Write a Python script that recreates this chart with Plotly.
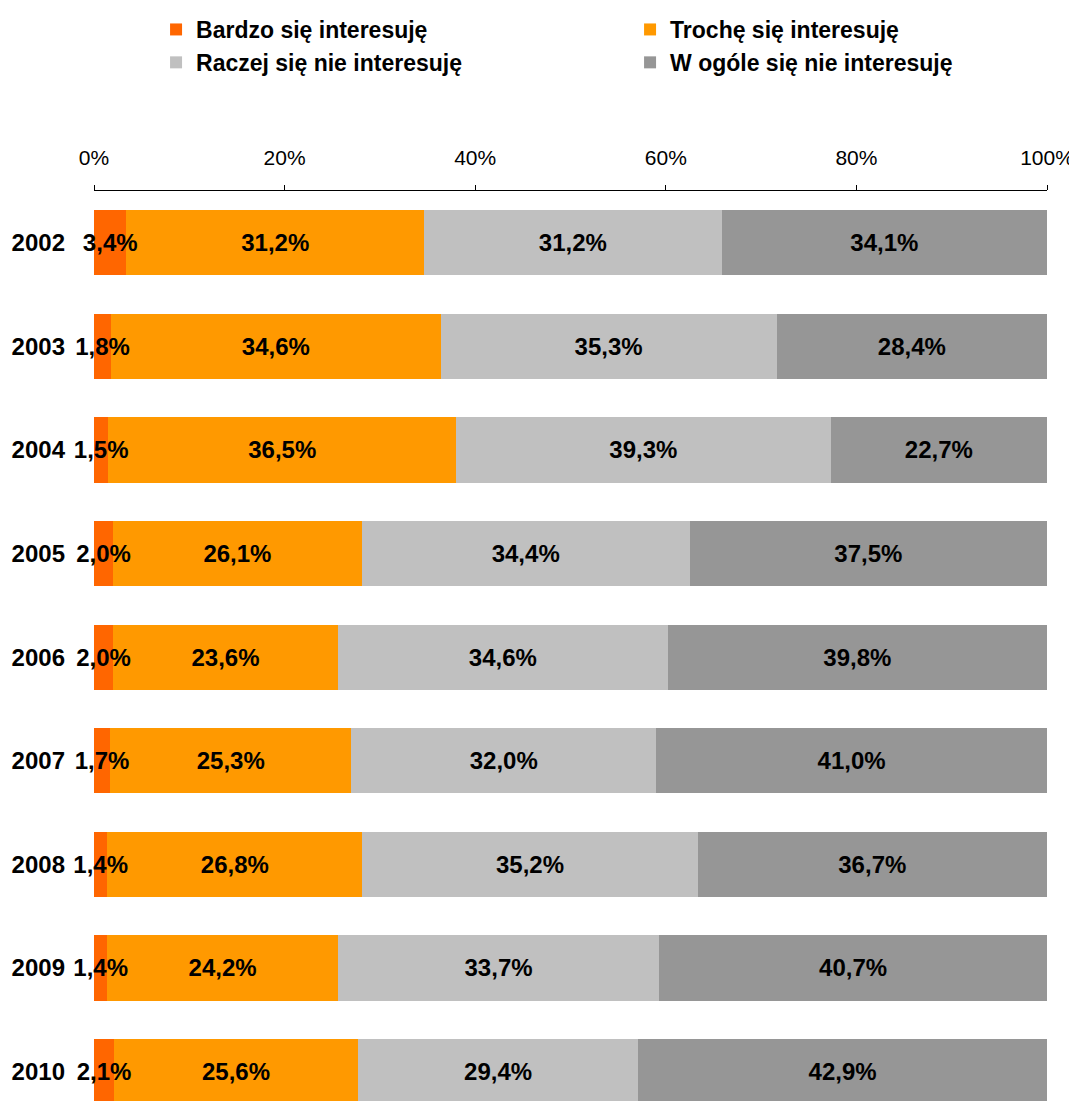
"""Interest levels by year, 100% stacked horizontal bars."""

import plotly.graph_objects as go

years = ["2002", "2003", "2004", "2005", "2006", "2007", "2008", "2009", "2010"]

bardzo = [3.4, 1.8, 1.5, 2.0, 2.0, 1.7, 1.4, 1.4, 2.1]
troche = [31.2, 34.6, 36.5, 26.1, 23.6, 25.3, 26.8, 24.2, 25.6]
raczej_nie = [31.2, 35.3, 39.3, 34.4, 34.6, 32.0, 35.2, 33.7, 29.4]
w_ogole_nie = [34.1, 28.4, 22.7, 37.5, 39.8, 41.0, 36.7, 40.7, 42.9]

series_names = [
    "Bardzo się interesuję",
    "Trochę się interesuję",
    "Raczej się nie interesuję",
    "W ogóle się nie interesuję",
]
x_ticks = [0, 20, 40, 60, 80, 100]
x_tick_labels = ["0%", "20%", "40%", "60%", "80%", "100%"]

COLORS = ["#FF6600", "#FF9900", "#C0C0C0", "#969696"]
FONT = "Liberation Sans, Arial, sans-serif"
Y_RANGE = [8.284, -0.5]


def pct_label(v):
    return f"{v:.1f}%".replace(".", ",")


all_values = [bardzo, troche, raczej_nie, w_ogole_nie]

fig = go.Figure()

# coloured bars (no text, so later segments can't hide the labels)
for name, values, color in zip(series_names, all_values, COLORS):
    fig.add_trace(
        go.Bar(
            y=years,
            x=values,
            name=name,
            orientation="h",
            marker={"color": color, "line": {"width": 0}},
            hoverinfo="skip",
        )
    )

# transparent copy on an overlaid axis carrying the value labels
for name, values in zip(series_names, all_values):
    fig.add_trace(
        go.Bar(
            y=years,
            x=values,
            name=name,
            orientation="h",
            yaxis="y2",
            showlegend=False,
            marker={"color": "rgba(0,0,0,0)", "line": {"width": 0}},
            text=[pct_label(v) for v in values],
            textposition="inside",
            insidetextanchor="middle",
            textangle=0,
            constraintext="none",
            textfont={"family": FONT, "size": 24, "color": "black", "weight": "bold"},
            cliponaxis=False,
        )
    )

fig.update_layout(
    width=1069,
    height=1093,
    barmode="stack",
    barnorm="percent",
    bargap=0.37,
    plot_bgcolor="white",
    paper_bgcolor="white",
    margin={"l": 86, "r": 30, "t": 183, "b": 0},
    uniformtext={"minsize": 24, "mode": "show"},
    font={"family": FONT, "color": "black"},
    legend={
        "orientation": "h",
        "xref": "container",
        "yref": "container",
        "x": 0.1385,
        "xanchor": "left",
        "y": 1.0,
        "yanchor": "top",
        "entrywidth": 429,
        "entrywidthmode": "pixels",
        "font": {"family": FONT, "size": 23, "weight": "bold", "color": "black"},
        "traceorder": "normal",
    },
    showlegend=True,
    yaxis2={
        "overlaying": "y",
        "categoryorder": "array",
        "categoryarray": years,
        "range": Y_RANGE,
        "visible": False,
    },
    xaxis={
        "side": "top",
        "range": [0, 100],
        "tickvals": x_ticks,
        "ticktext": x_tick_labels,
        "tickfont": {"family": FONT, "size": 21, "color": "black"},
        "ticks": "outside",
        "ticklen": 5,
        "tickcolor": "black",
        "ticklabelstandoff": 12,
        "showline": True,
        "linecolor": "black",
        "linewidth": 1,
        "showgrid": False,
        "zeroline": False,
        "automargin": False,
    },
    yaxis={
        "categoryorder": "array",
        "categoryarray": years,
        "range": Y_RANGE,
        "tickfont": {"family": FONT, "size": 24, "color": "black", "weight": "bold"},
        "ticklabelstandoff": 28,
        "showline": False,
        "showgrid": False,
        "zeroline": False,
        "automargin": False,
    },
)

fig.write_html("out.html")
